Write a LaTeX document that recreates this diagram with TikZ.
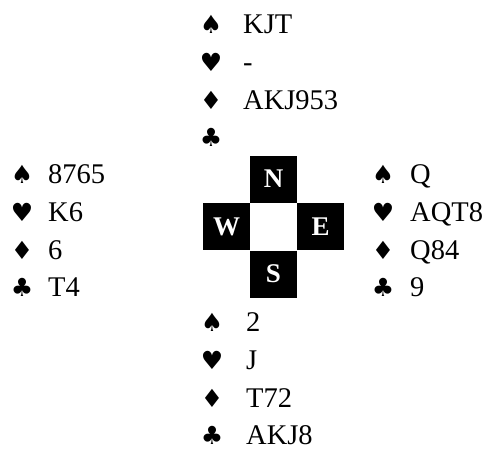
\documentclass[tikz,border=0pt]{standalone}
\usepackage{fontspec}
\setmainfont{Liberation Serif}
\newfontfamily\suitfont{DejaVu Sans}
\usepackage{tikz}
\tikzset{
	suit/.style={font=\suitfont\fontsize{25}{26}\selectfont,inner sep=0pt,anchor=center},
	cards/.style={font=\fontsize{28.5}{30}\selectfont,inner sep=0pt,anchor=base west},
	seat/.style={fill=black,minimum size=47pt,inner sep=0pt,text=white,font=\bfseries\fontsize{27}{28}\selectfont}
}

\begin{document}
\begin{tikzpicture}[x=1pt,y=-1pt]
	\useasboundingbox (0,0) rectangle (489,450);

	% north
	\node [suit] (nS) at (211,24) {♠};
	\node [suit] (nH) at (211,62) {♥};
	\node [suit] (nD) at (211,100) {♦};
	\node [suit] (nC) at (211,137) {♣};
	\node [cards] (nSc) at (243,33) {KJT};
	\node [cards] (nHc) at (243,71) {-};
	\node [cards] (nDc) at (243,109) {AKJ953};

	% west
	\node [suit] (wS) at (22,174) {♠};
	\node [suit] (wH) at (22,212) {♥};
	\node [suit] (wD) at (22,250) {♦};
	\node [suit] (wC) at (22,287) {♣};
	\node [cards] (wSc) at (48,183) {8765};
	\node [cards] (wHc) at (48,221) {K6};
	\node [cards] (wDc) at (48,259) {6};
	\node [cards] (wCc) at (48,296) {T4};

	% east
	\node [suit] (eS) at (383,174) {♠};
	\node [suit] (eH) at (383,212) {♥};
	\node [suit] (eD) at (383,250) {♦};
	\node [suit] (eC) at (383,287) {♣};
	\node [cards] (eSc) at (410,183) {Q};
	\node [cards] (eHc) at (410,221) {AQT8};
	\node [cards] (eDc) at (410,259) {Q84};
	\node [cards] (eCc) at (410,296) {9};

	% south
	\node [suit] (sS) at (212,322) {♠};
	\node [suit] (sH) at (212,360) {♥};
	\node [suit] (sD) at (212,398) {♦};
	\node [suit] (sC) at (212,435) {♣};
	\node [cards] (sSc) at (246,331) {2};
	\node [cards] (sHc) at (246,369) {J};
	\node [cards] (sDc) at (246,407) {T72};
	\node [cards] (sCc) at (246,444) {AKJ8};

	% compass
	\node [seat] (N) at (273.5,179) {N};
	\node [seat] (S) at (273.5,274) {S};
	\node [seat] (W) at (226.5,226.5) {W};
	\node [seat] (E) at (320.5,226.5) {E};
\end{tikzpicture}
\end{document}
